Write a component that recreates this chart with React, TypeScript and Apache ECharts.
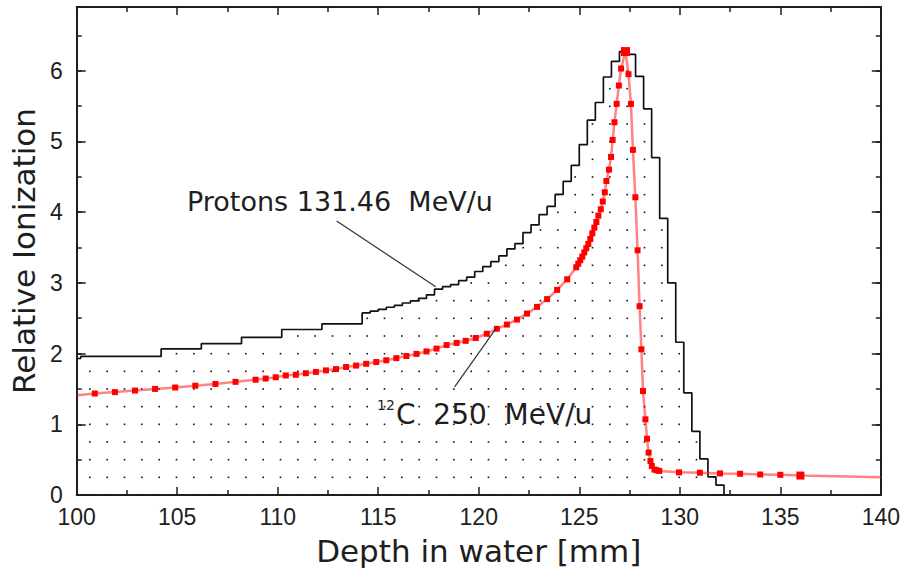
import React, { useEffect, useRef } from "react";
import * as echarts from "echarts";

// Proton histogram: left bin edges and bin values (Relative Ionization)
const protonEdges = [
  100, 100.2, 104.2, 106.2, 108.2, 110.2, 112.2, 114.2, 114.6, 115.0, 115.4, 115.8, 116.2, 116.6, 117.0,
  117.4, 117.8, 118.2, 118.6, 119.0, 119.4, 119.8, 120.2, 120.6, 121.0, 121.4, 121.8, 122.2, 122.6,
  123.0, 123.4, 123.8, 124.2, 124.6, 125.0, 125.4, 125.8, 126.2, 126.6, 127.0, 127.4, 127.8, 128.2,
  128.6, 129.0, 129.4, 129.8, 130.2, 130.6, 131.0, 131.4, 131.8, 132.2,
];
const protonValues = [
  1.93, 1.96, 2.065, 2.14, 2.23, 2.34, 2.42, 2.575, 2.6, 2.625, 2.655, 2.68, 2.715, 2.745, 2.78, 2.83,
  2.91, 2.945, 2.975, 3.03, 3.08, 3.16, 3.23, 3.3, 3.38, 3.48, 3.555, 3.71, 3.82, 3.965, 4.08, 4.25,
  4.435, 4.66, 4.955, 5.3, 5.55, 5.91, 6.13, 6.27, 6.23, 5.92, 5.46, 4.77, 3.91, 3.0, 2.16, 1.445, 0.9,
  0.51, 0.257, 0.14, 0,
];

// 12C measurement points
const carbonX = [
  100, 100.9, 101.9, 102.9, 103.9, 104.9, 105.9, 106.9, 107.9, 108.9, 109.4, 109.9, 110.4, 110.9, 111.4,
  111.9, 112.4, 112.9, 113.4, 113.9, 114.4, 114.9, 115.4, 115.9, 116.4, 116.9, 117.4, 117.9, 118.4,
  118.9, 119.35, 119.85, 120.4, 120.9, 121.4, 121.9, 122.4, 122.9, 123.4, 123.9, 124.4, 124.85, 124.95,
  125.05, 125.15, 125.25, 125.35, 125.45, 125.55, 125.65, 125.75, 125.85, 125.95, 126.07, 126.17,
  126.27, 126.35, 126.48, 126.58, 126.66, 126.75, 126.86, 126.97, 127.08, 127.3, 127.45, 127.57,
  127.67, 127.79, 127.9, 128.0, 128.09, 128.17, 128.29, 128.37, 128.45, 128.54, 128.61, 128.74,
  128.85, 128.98, 129.96, 131.0, 132.0, 133.0, 134.0, 135.0, 136.0, 140,
];
const carbonY = [
  1.41, 1.435, 1.455, 1.477, 1.5, 1.52, 1.545, 1.57, 1.6, 1.63, 1.647, 1.665, 1.69, 1.7, 1.722, 1.74,
  1.762, 1.78, 1.81, 1.83, 1.855, 1.88, 1.905, 1.935, 1.965, 1.995, 2.03, 2.07, 2.12, 2.15, 2.18, 2.22,
  2.28, 2.35, 2.41, 2.48, 2.565, 2.66, 2.77, 2.9, 3.05, 3.22, 3.27, 3.32, 3.37, 3.43, 3.49, 3.55, 3.62,
  3.7, 3.78, 3.86, 3.95, 4.04, 4.15, 4.28, 4.44, 4.6, 4.78, 5.02, 5.27, 5.53, 5.79, 6.03, 6.27, 5.95,
  5.53, 4.88, 4.21, 3.46, 2.67, 2.06, 1.47, 1.07, 0.795, 0.6, 0.48, 0.41, 0.36, 0.35, 0.34, 0.32, 0.315,
  0.305, 0.3, 0.29, 0.285, 0.275, 0.25,
];

// annotation leader lines (data coordinates)
const protonLeader = [
  [112.93, 3.874],
  [117.86, 2.944],
];
const carbonLeader = [
  [118.8, 1.53],
  [120.89, 2.367],
];

const X_MIN = 100;
const X_MAX = 140;
const Y_MIN = 0;
const Y_MAX = 6.9;

const labelFont = "'Liberation Sans Narrow', 'Liberation Sans', Arial, sans-serif";
const titleFont = "'DejaVu Sans', sans-serif";
const ink = "#1e1e1e";

function makeDotTile(): HTMLCanvasElement {
  const c = document.createElement("canvas");
  c.width = 52;
  c.height = 53;
  const ctx = c.getContext("2d")!;
  ctx.fillStyle = "#111";
  const xs = [3.17, 20.5, 37.83];
  const ys = [0.33, 18, 35.67];
  for (const x of xs)
    for (const y of ys)
      for (const dx of [-52, 0, 52])
        for (const dy of [-53, 0, 53]) ctx.fillRect(x + dx - 0.8, y + dy - 0.8, 1.6, 1.6);
  return c;
}

export default function App() {
  const ref = useRef<HTMLDivElement>(null);

  useEffect(() => {
    if (!ref.current) return;
    const chart = echarts.init(ref.current, undefined, { renderer: "svg" });
    const tile = makeDotTile();

    const axisLine = { show: true, onZero: false, lineStyle: { color: ink, width: 2 } };
    const tickStyle = { color: ink, width: 1.5 };

    const xBase = {
      type: "value" as const,
      min: X_MIN,
      max: X_MAX,
      interval: 5,
      axisLine,
      axisTick: { show: true, inside: true, length: 8, lineStyle: tickStyle },
      minorTick: { show: true, splitNumber: 2, length: 5, lineStyle: tickStyle },
      splitLine: { show: false },
      minorSplitLine: { show: false },
    };
    const yMajor = {
      type: "value" as const,
      min: Y_MIN,
      max: Y_MAX,
      interval: 1,
      axisLine,
      axisTick: { show: true, inside: true, length: 9, lineStyle: tickStyle },
      splitLine: { show: false },
    };
    const yMinor = {
      type: "value" as const,
      min: Y_MIN,
      max: Y_MAX,
      interval: 0.5,
      axisLine: { show: false },
      axisTick: { show: true, inside: true, length: 5, lineStyle: tickStyle },
      axisLabel: { show: false },
      splitLine: { show: false },
    };

    const protonData = protonEdges.map((x, i) => [x, protonValues[i]]);
    const peak = Math.max(...carbonY);
    const carbonData = carbonX.map((x, i) => {
      const item: any = { value: [x, carbonY[i]] };
      if (i === 0 || i === carbonX.length - 1) item.symbol = "none";
      if (carbonY[i] === peak) item.symbolSize = 9;
      if (x === 136.0) item.symbolSize = 8;
      return item;
    });

    chart.setOption({
      animation: false,
      backgroundColor: "#ffffff",
      grid: { left: 72, right: 17.5, top: 7, bottom: 79, containLabel: false },
      xAxis: [
        {
          ...xBase,
          position: "bottom",
          axisLabel: { show: true, margin: 10, color: ink, fontSize: 23, fontFamily: labelFont },
          name: "Depth in water [mm]",
          nameLocation: "middle",
          nameGap: 40,
          nameTextStyle: { color: ink, fontSize: 31, fontFamily: titleFont },
        },
        { ...xBase, position: "top", axisLabel: { show: false } },
      ],
      yAxis: [
        {
          ...yMajor,
          position: "left",
          axisLabel: {
            show: true,
            margin: 14,
            color: ink,
            fontSize: 23,
            fontFamily: labelFont,
            showMaxLabel: false,
          },
          name: "Relative Ionization",
          nameLocation: "middle",
          nameGap: 35,
          nameRotate: 90,
          nameTextStyle: { color: ink, fontSize: 31, fontFamily: titleFont },
        },
        { ...yMinor, position: "left" },
        { ...yMajor, position: "right", axisLabel: { show: false } },
        { ...yMinor, position: "right" },
      ],
      series: [
        {
          name: "Protons 131.46 MeV/u",
          type: "line",
          xAxisIndex: 0,
          yAxisIndex: 0,
          step: "end",
          symbol: "none",
          data: protonData,
          lineStyle: { color: "#111", width: 1.7 },
          areaStyle: { color: { image: tile, repeat: "repeat" } as any, opacity: 1 },
          z: 2,
          silent: true,
          markLine: {
            silent: true,
            symbol: ["none", "none"],
            label: { show: false },
            lineStyle: { color: "#333", width: 1.2, type: "solid" },
            data: [
              [{ coord: protonLeader[0] }, { coord: protonLeader[1] }],
              [{ coord: carbonLeader[0] }, { coord: carbonLeader[1] }],
            ],
          },
        },
        {
          name: "12C 250 MeV/u",
          type: "line",
          xAxisIndex: 0,
          yAxisIndex: 0,
          symbol: "rect",
          symbolSize: 6,
          showAllSymbol: true,
          data: carbonData,
          itemStyle: { color: "#ff0000" },
          lineStyle: { color: "rgba(255,30,30,0.55)", width: 2.5 },
          z: 3,
          silent: true,
        },
      ],
      graphic: [
        {
          type: "text",
          left: 187,
          top: 188,
          silent: true,
          style: {
            text: "Protons 131.46\u00a0\u00a0MeV/u",
            fill: ink,
            font: `27px ${titleFont}`,
          },
        },
        {
          type: "text",
          left: 377,
          top: 398,
          silent: true,
          style: { text: "12", fill: ink, font: `14px ${titleFont}` },
        },
        {
          type: "text",
          left: 396,
          top: 400,
          silent: true,
          style: { text: "C\u00a0\u00a0250\u00a0\u00a0MeV/u", fill: ink, font: `28px ${titleFont}` },
        },
      ],
    });

    return () => chart.dispose();
  }, []);

  return (
    <div
      ref={ref}
      style={{ position: "fixed", left: 0, top: 0, width: 903, height: 574, background: "#fff" }}
    />
  );
}
